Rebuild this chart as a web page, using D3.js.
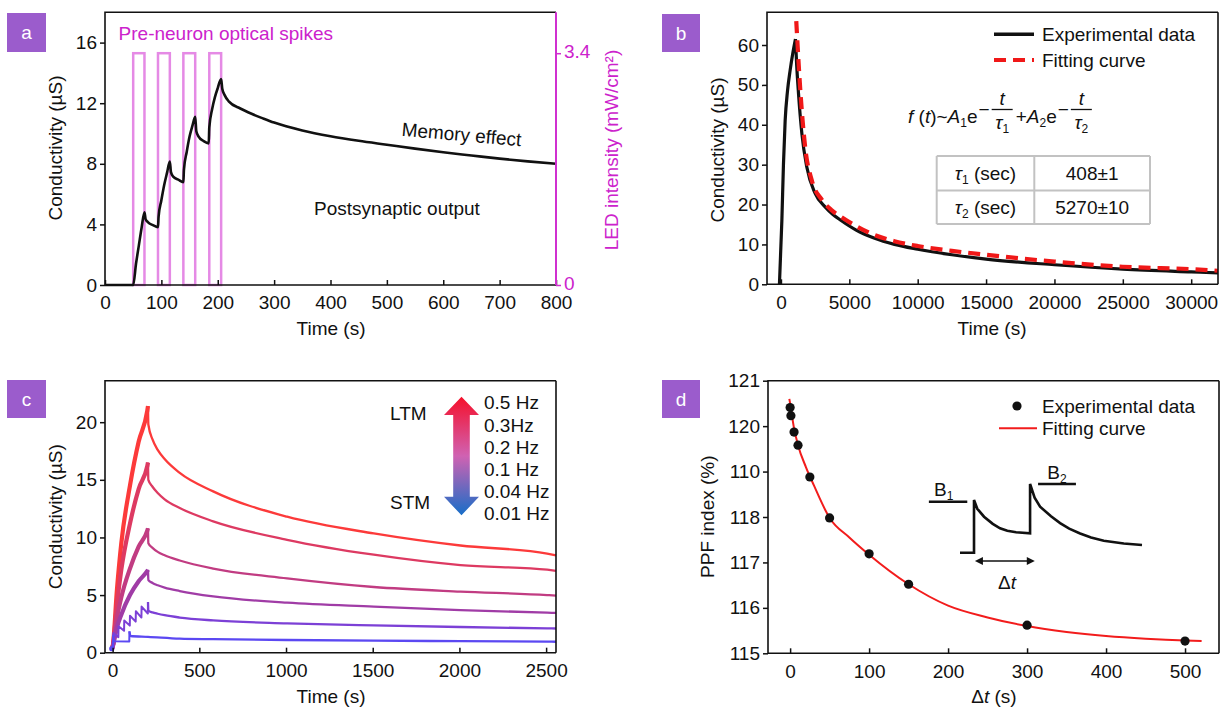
<!DOCTYPE html>
<html>
<head>
<meta charset="utf-8">
<script src="https://cdn.jsdelivr.net/npm/d3@7"></script>
<style>
  body { margin: 0; background: #fff; }
  svg { font-family: "Liberation Sans", Arial, sans-serif; }
</style>
</head>
<body>
<script>
// ---- panel a : optical spikes + postsynaptic output ----
const aPulseStart = [50, 94, 139, 185];
const aPulseEnd = [70, 115, 160, 206];
const aPulseLevel = 3.4;
const aTime = [0, 50, 55, 60, 65, 70, 72, 76, 85, 94, 95, 100, 105, 110, 115, 117, 121, 130, 139, 140, 145, 150, 155, 160, 162, 166, 175, 184, 185, 190, 195, 200, 206, 208, 212, 220, 240, 260, 280, 300, 350, 400, 450, 500, 550, 600, 650, 700, 750, 800];
const aCond = [0, 0, 1.4, 2.6, 3.8, 4.8, 4.35, 4.15, 3.95, 3.82, 4.5, 5.6, 6.6, 7.4, 8.15, 7.45, 7.15, 6.95, 6.78, 7.6, 8.8, 9.8, 10.5, 11.1, 10.15, 9.8, 9.5, 9.35, 10.4, 11.6, 12.4, 13.0, 13.6, 12.95, 12.55, 12.1, 11.65, 11.3, 11.0, 10.72, 10.2, 9.82, 9.52, 9.26, 9.0, 8.76, 8.55, 8.34, 8.16, 8.0];
const aXTicks = [0, 100, 200, 300, 400, 500, 600, 700, 800];
const aYTicks = [0, 4, 8, 12, 16];
const aLedTicks = [0, 3.4];

// ---- panel b : decay + fit ----
const bExpTime = [-110, 66, 183, 307, 480, 673, 870, 1061, 1150, 1280, 1530, 1890, 2500, 3230, 3800, 4400, 5500, 6800, 8300, 10000, 12500, 15000, 20000, 25000, 30000, 31960];
const bExpCond = [0, 15.9, 30, 41, 48.5, 53.7, 58, 61.5, 55, 48, 37.8, 29.4, 22.8, 19.4, 17.5, 16.0, 13.6, 11.6, 10.0, 8.8, 7.4, 6.3, 4.9, 3.8, 3.1, 2.85];
const bPeakIndex = 7;
const bFitTime = [1120, 1400, 1770, 2260, 2990, 3700, 4400, 5500, 6800, 8300, 10000, 12500, 15000, 20000, 25000, 30000, 31960];
const bFitCond = [66, 49.5, 34.4, 26, 21.2, 18.6, 16.9, 14.6, 12.4, 10.8, 9.6, 8.4, 7.4, 5.7, 4.4, 3.8, 3.4];
const bXTicks = [0, 5000, 10000, 15000, 20000, 25000, 30000];
const bYTicks = [0, 10, 20, 30, 40, 50, 60];
const bTauNames = ["1", "2"];
const bTauValues = ["408±1", "5270±10"];

// ---- panel c : frequency dependence ----
const cFreqLabels = ["0.5 Hz", "0.3Hz", "0.2 Hz", "0.1 Hz", "0.04 Hz", "0.01 Hz"];
const cColors = ["#fc3a3a", "#dd3a62", "#c13c82", "#a03ca6", "#7c40d6", "#5b48f2"];
const cRiseTime = [-5, 0, 25, 50, 100, 150, 200, 204];
const cDecayTime = [204, 206, 230, 260, 300, 387, 580, 1006, 1506, 2006, 2506, 2557];
const c05Rise = [0.3, 0.5, 5.5, 9.5, 14.5, 18.3, 21.0, 21.4];
const c05Decay = [21.4, 19.8, 18.5, 17.6, 16.8, 15.6, 14.0, 11.8, 10.35, 9.3, 8.6, 8.45];
const c03Rise = [0.3, 0.5, 4.2, 7.2, 11.2, 14.2, 16.2, 16.5];
const c03Decay = [16.5, 15.0, 14.4, 13.85, 13.3, 12.55, 11.4, 9.8, 8.5, 7.6, 7.2, 7.1];
const c02Rise = [0.3, 0.5, 3.0, 4.8, 7.3, 9.2, 10.6, 10.8];
const c02Decay = [10.8, 9.5, 9.1, 8.75, 8.45, 8.0, 7.3, 6.45, 5.7, 5.3, 5.0, 4.95];
const c01Rise = [0.3, 0.5, 2.2, 3.3, 5.0, 6.2, 7.1, 7.2];
const c01Decay = [7.2, 6.3, 6.05, 5.85, 5.65, 5.35, 4.88, 4.34, 4.0, 3.7, 3.47, 3.45];
const c004Time = [-5, 3, 4, 33, 34, 66, 67, 99, 100, 133, 134, 166, 167, 203, 204];
const c004Cond = [0.3, 0.5, 1.7, 1.35, 2.3, 1.9, 2.8, 2.35, 3.2, 2.7, 3.6, 3.05, 4.0, 3.4, 4.4];
const c004Decay = [4.4, 3.65, 3.5, 3.38, 3.25, 3.05, 2.8, 2.55, 2.37, 2.23, 2.11, 2.1];
const c001Time = [-5, 2, 3, 9, 96, 97];
const c001Cond = [0.3, 0.4, 1.5, 1.0, 0.98, 1.85];
const c001DecayTime = [97, 103, 204, 387, 580, 1006, 1506, 2006, 2506, 2557];
const c001Decay = [1.85, 1.45, 1.38, 1.22, 1.17, 1.1, 1.04, 1.0, 0.96, 0.95];
const cXTicks = [0, 500, 1000, 1500, 2000, 2500];
const cYTicks = [0, 5, 10, 15, 20];

// ---- panel d : PPF index ----
const dDelta = [0, 1, 5, 10, 25, 50, 100, 150, 300, 500];
const dPPF = [120.41, 120.23, 119.87, 119.58, 118.88, 117.98, 117.19, 116.52, 115.62, 115.27];
const dFitDelta = [-1, 0, 5, 10, 20, 30, 50, 75, 100, 150, 200, 250, 300, 350, 400, 450, 500, 521];
const dFitPPF = [120.6, 120.5, 119.95, 119.58, 119.1, 118.7, 117.98, 117.55, 117.17, 116.52, 116.05, 115.79, 115.6, 115.47, 115.38, 115.32, 115.28, 115.27];
const dXTicks = [0, 100, 200, 300, 400, 500];
const dYTicks = [115, 116, 117, 118, 119, 120, 121];
const dYLabels = ["115", "116", "117", "118", "110", "120", "121"];
// schematic inset (arbitrary units)
const insetTime = [0, 0.77, 0.77, 0.95, 1.32, 1.8, 2.2, 2.6, 3.08, 3.85, 3.85, 4.1, 4.4, 5.0, 5.5, 6.0, 6.6, 7.2, 7.9, 9.0, 10];
const insetLevel = [0, 0, 0.767, 0.64, 0.524, 0.42, 0.355, 0.32, 0.297, 0.282, 1.0, 0.8, 0.67, 0.53, 0.43, 0.35, 0.28, 0.22, 0.175, 0.135, 0.112];

const W = 1227, H = 711;
const FS = 19;
const INK = "#111";
const MAG = "#cc22cc";

const svg = d3.select("body").append("svg")
    .attr("width", W)
    .attr("height", H);

const line = (x, y, ts, vs, curve) => d3.line()
    .x((d, i) => x(ts[i]))
    .y((d, i) => y(vs[i]))
    .curve(curve || d3.curveLinear)(ts);

function badge(x, y, w, h, label) {
    svg.append("rect").attr("x", x).attr("y", y).attr("width", w).attr("height", h).attr("fill", "#9b5ccc");
    svg.append("text").attr("x", x + w / 2).attr("y", y + h / 2 + 6.5)
        .attr("text-anchor", "middle").attr("fill", "#fff").attr("font-size", FS).text(label);
}

function axes(x, y, xt, yt, yfmt) {
    const y0 = y.range()[0], x0 = x.range()[0];
    const gx = svg.append("g").attr("transform", `translate(0,${y0})`)
        .call(d3.axisBottom(x).tickValues(xt).tickSize(-5).tickSizeOuter(0).tickPadding(11).tickFormat(d3.format("d")));
    const gy = svg.append("g").attr("transform", `translate(${x0},0)`)
        .call(d3.axisLeft(y).tickValues(yt).tickSize(5).tickSizeOuter(0).tickPadding(3).tickFormat(yfmt || d3.format("d")));
    [gx, gy].forEach(a => {
        a.attr("font-family", null).attr("font-size", null);
        a.select(".domain").remove();
        a.selectAll("text").attr("font-size", FS).attr("fill", INK);
        a.selectAll("line").attr("stroke", INK).attr("stroke-width", 1.5);
    });
}

function frame(x, y, rightColor) {
    const [x0, x1] = x.range(), [y0, y1] = y.range();
    const p = `M${x1},${y1}H${x0}V${y0}H${x1}`;
    svg.append("path").attr("d", p).attr("fill", "none").attr("stroke", INK).attr("stroke-width", 1.6);
    svg.append("line").attr("x1", x1).attr("x2", x1).attr("y1", y1).attr("y2", y0)
        .attr("stroke", rightColor || INK).attr("stroke-width", rightColor ? 2 : 1.6);
}

function label(x, y, txt, opts = {}) {
    const t = svg.append("text").attr("x", x).attr("y", y).attr("font-size", opts.size || FS)
        .attr("fill", opts.color || INK).attr("text-anchor", opts.anchor || "middle");
    if (opts.rotate !== undefined) t.attr("transform", `rotate(${opts.rotate},${x},${y})`);
    t.text(txt);
    return t;
}

// ================= panel a =================
{
    const x = d3.scaleLinear([0, 800], [105, 556]);
    const y = d3.scaleLinear([0, 18], [285, 12.3]);
    const yLed = d3.scaleLinear([0, 4], [285, 12.3]);

    svg.append("g").selectAll("rect").data(aPulseStart).join("rect")
        .attr("x", d => x(d))
        .attr("y", yLed(aPulseLevel))
        .attr("width", (d, i) => x(aPulseEnd[i]) - x(d))
        .attr("height", yLed(0) - yLed(aPulseLevel))
        .attr("fill", "none").attr("stroke", "#e58ae5").attr("stroke-width", 2.5);

    svg.append("path").attr("d", line(x, y, aTime, aCond, d3.curveMonotoneX))
        .attr("fill", "none").attr("stroke", INK).attr("stroke-width", 2.6).attr("stroke-linejoin", "round");

    axes(x, y, aXTicks, aYTicks);
    frame(x, y, "#d030d0");

    const gr = svg.append("g").attr("transform", `translate(${x.range()[1]},0)`)
        .call(d3.axisRight(yLed).tickValues(aLedTicks).tickSize(5).tickSizeOuter(0).tickPadding(3).tickFormat(d => d === 0 ? "0" : "3.4"));
    gr.attr("font-family", null).attr("font-size", null);
    gr.select(".domain").remove();
    gr.selectAll("text").attr("font-size", FS).attr("fill", MAG).attr("dy", "0.25em");
    gr.selectAll("line").attr("stroke", "#d030d0").attr("stroke-width", 1.5);

    label(118.6, 39.5, "Pre-neuron optical spikes", { anchor: "start", color: MAG });
    label(461, 141, "Memory effect", { rotate: 5 });
    label(397, 215, "Postsynaptic output");
    label(331, 335, "Time (s)");
    label(62, 148, "Conductivity (µS)", { rotate: -90 });
    label(618, 150, "LED intensity (mW/cm²)", { rotate: -90, color: MAG });
    badge(7, 13, 39, 39, "a");
}

// ================= panel b =================
{
    const x = d3.scaleLinear([-1020, 31960], [767, 1218]);
    const y = d3.scaleLinear([0, 68.2], [284.3, 12.3]);

    const riseT = bExpTime.slice(0, bPeakIndex + 1), riseV = bExpCond.slice(0, bPeakIndex + 1);
    const decT = bExpTime.slice(bPeakIndex), decV = bExpCond.slice(bPeakIndex);
    svg.append("path").attr("d", line(x, y, riseT, riseV, d3.curveMonotoneX) + line(x, y, decT, decV, d3.curveMonotoneX))
        .attr("fill", "none").attr("stroke", INK).attr("stroke-width", 3.2).attr("stroke-linejoin", "miter");
    svg.append("path").attr("d", line(x, y, bFitTime, bFitCond, d3.curveMonotoneX))
        .attr("fill", "none").attr("stroke", "#f01818").attr("stroke-width", 4.2).attr("stroke-dasharray", "12,7");

    axes(x, y, bXTicks, bYTicks);
    frame(x, y);

    // legend
    svg.append("line").attr("x1", 994).attr("x2", 1034).attr("y1", 34.3).attr("y2", 34.3).attr("stroke", INK).attr("stroke-width", 3.5);
    label(1042, 41, "Experimental data", { anchor: "start" });
    svg.append("line").attr("x1", 994).attr("x2", 1034).attr("y1", 60).attr("y2", 60)
        .attr("stroke", "#f01818").attr("stroke-width", 4.2).attr("stroke-dasharray", "12,7");
    label(1042, 67, "Fitting curve", { anchor: "start" });

    // formula f(t) ~ A1 e^{-t/τ1} + A2 e^{-t/τ2}
    const fm = svg.append("g").attr("font-size", FS).attr("fill", INK);
    let cx = 908;
    const base = 123;
    const piece = (parts) => {
        const t = fm.append("text").attr("x", cx).attr("y", base);
        parts.forEach(p => {
            const s = t.append("tspan").text(p.t);
            if (p.i) s.attr("font-style", "italic");
            if (p.sub) s.attr("font-size", 12).attr("dy", 4);
            if (p.up) s.attr("dy", -4);
        });
        cx += t.node().getComputedTextLength();
    };
    const minus = () => {
        const t = fm.append("text").attr("x", cx + 1).attr("y", base - 7).text("−");
        cx += t.node().getComputedTextLength() + 2;
    };
    const frac = (sub) => {
        const w = 21, mid = cx + w / 2 + 1;
        fm.append("line").attr("x1", cx + 1).attr("x2", cx + 1 + w).attr("y1", 109.5).attr("y2", 109.5).attr("stroke", INK).attr("stroke-width", 1.3);
        fm.append("text").attr("x", mid).attr("y", 105).attr("text-anchor", "middle").attr("font-style", "italic").text("t");
        const d = fm.append("text").attr("x", mid).attr("y", 129).attr("text-anchor", "middle");
        d.append("tspan").attr("font-style", "italic").text("τ");
        d.append("tspan").attr("font-size", 12).attr("dy", 4).text(sub);
        cx += w + 4;
    };
    piece([{ t: "f", i: true }, { t: " (" }, { t: "t", i: true }, { t: ")~" }, { t: "A", i: true }, { t: "1", sub: true }, { t: "e", up: true }]);
    minus();
    frac("1");
    piece([{ t: "+" }, { t: "A", i: true }, { t: "2", sub: true }, { t: "e", up: true }]);
    minus();
    frac("2");

    // table of time constants
    const tx = [936.7, 1034.3, 1150], ty = [156, 190.5, 224];
    const tg = svg.append("g").attr("stroke", "#c2c2c2").attr("stroke-width", 2);
    tx.forEach(v => tg.append("line").attr("x1", v).attr("x2", v).attr("y1", ty[0]).attr("y2", ty[2]));
    ty.forEach(v => tg.append("line").attr("x1", tx[0]).attr("x2", tx[2]).attr("y1", v).attr("y2", v));
    bTauNames.forEach((n, i) => {
        const yb = (ty[i] + ty[i + 1]) / 2 + 6.5;
        const t = svg.append("text").attr("x", (tx[0] + tx[1]) / 2).attr("y", yb).attr("text-anchor", "middle")
            .attr("font-size", FS).attr("fill", INK);
        t.append("tspan").attr("font-style", "italic").text("τ");
        t.append("tspan").attr("font-size", 12).attr("dy", 4).text(n);
        t.append("tspan").attr("dy", -4).text(" (sec)");
        label((tx[1] + tx[2]) / 2, yb, bTauValues[i]);
    });

    label(992, 335, "Time (s)");
    label(724, 150, "Conductivity (µS)", { rotate: -90 });
    badge(662, 14, 38, 38, "b");
}

// ================= panel c =================
{
    const x = d3.scaleLinear([-44, 2557], [105, 556]);
    const y = d3.scaleLinear([0, 23.6], [652.7, 380.7]);

    const rises = [c05Rise, c03Rise, c02Rise, c01Rise];
    const decays = [c05Decay, c03Decay, c02Decay, c01Decay, c004Decay];
    const g = svg.append("g").attr("fill", "none").attr("stroke-linejoin", "round");

    decays.forEach((v, i) => g.append("path").attr("d", line(x, y, cDecayTime, v, d3.curveMonotoneX))
        .attr("stroke", cColors[i]).attr("stroke-width", 2.3));
    rises.forEach((v, i) => g.append("path").attr("d", line(x, y, cRiseTime, v, d3.curveMonotoneX))
        .attr("stroke", cColors[i]).attr("stroke-width", 4.2));
    g.append("path").attr("d", line(x, y, c004Time, c004Cond)).attr("stroke", cColors[4]).attr("stroke-width", 2);
    g.append("path").attr("d", line(x, y, c001Time, c001Cond)).attr("stroke", cColors[5]).attr("stroke-width", 2);
    g.append("path").attr("d", line(x, y, c001DecayTime, c001Decay, d3.curveMonotoneX)).attr("stroke", cColors[5]).attr("stroke-width", 2.3);
    svg.append("circle").attr("cx", x(-5)).attr("cy", y(0.35)).attr("r", 2.6).attr("fill", "#5b48f2");

    axes(x, y, cXTicks, cYTicks);
    frame(x, y);

    // LTM / STM gradient arrow
    const grad = svg.append("defs").append("linearGradient").attr("id", "ltm").attr("x1", 0).attr("x2", 0).attr("y1", 0).attr("y2", 1);
    [["0%", "#f5102a"], ["50%", "#d062b2"], ["100%", "#176ec8"]].forEach(s =>
        grad.append("stop").attr("offset", s[0]).attr("stop-color", s[1]));
    const ac = 461.5, hw = 17.5, sw = 8.3, top = 396.7, hb = 415, bb = 496.7, bot = 515.3;
    svg.append("path")
        .attr("d", `M${ac},${top}L${ac + hw},${hb}H${ac + sw}V${bb}H${ac + hw}L${ac},${bot}L${ac - hw},${bb}H${ac - sw}V${hb}H${ac - hw}Z`)
        .attr("fill", "url(#ltm)");
    label(390, 420, "LTM", { anchor: "start" });
    label(390, 508.5, "STM", { anchor: "start" });
    const fy = [402.3, 425.3, 447.3, 469.3, 491.5, 513.3];
    cFreqLabels.forEach((f, i) => label(484, fy[i] + 6.8, f, { anchor: "start" }));

    label(331, 703, "Time (s)");
    label(62, 516.7, "Conductivity (µS)", { rotate: -90 });
    badge(7, 380, 39, 38, "c");
}

// ================= panel d =================
{
    const x = d3.scaleLinear([-28, 543], [768, 1219]);
    const y = d3.scaleLinear([115, 121], [653.3, 380.7]);

    svg.append("path").attr("d", line(x, y, dFitDelta, dFitPPF, d3.curveMonotoneX))
        .attr("fill", "none").attr("stroke", "#f21c1c").attr("stroke-width", 2);
    svg.append("g").selectAll("circle").data(dDelta).join("circle")
        .attr("cx", d => x(d)).attr("cy", (d, i) => y(dPPF[i])).attr("r", 4.6).attr("fill", INK);

    axes(x, y, dXTicks, dYTicks, (d, i) => dYLabels[i]);
    frame(x, y);

    // legend
    svg.append("circle").attr("cx", 1017).attr("cy", 406).attr("r", 4.6).attr("fill", INK);
    label(1042, 413, "Experimental data", { anchor: "start" });
    svg.append("line").attr("x1", 999).attr("x2", 1037).attr("y1", 428.3).attr("y2", 428.3).attr("stroke", "#f21c1c").attr("stroke-width", 2);
    label(1042, 435, "Fitting curve", { anchor: "start" });

    // schematic inset
    const ix = d3.scaleLinear([0, 10], [960, 1142]);
    const iy = d3.scaleLinear([0, 1], [552.7, 484]);
    const ig = svg.append("g").attr("fill", "none").attr("stroke", INK).attr("stroke-width", 2.6);
    ig.append("path").attr("d", line(ix, iy, insetTime, insetLevel));
    ig.append("line").attr("x1", ix(-1.71)).attr("x2", ix(0.4)).attr("y1", iy(0.742)).attr("y2", iy(0.742));
    ig.append("line").attr("x1", ix(4.29)).attr("x2", ix(6.37)).attr("y1", iy(1)).attr("y2", iy(1));
    const ay = iy(-0.12), a0 = ix(0.82), a1 = ix(4.11);
    svg.append("line").attr("x1", a0 + 3).attr("x2", a1 - 3).attr("y1", ay).attr("y2", ay).attr("stroke", INK).attr("stroke-width", 1.6);
    svg.append("path").attr("d", `M${a0},${ay}l8,-4v8z M${a1},${ay}l-8,-4v8z`).attr("fill", INK);
    const b1 = svg.append("text").attr("x", ix(-1.43)).attr("y", 496).attr("font-size", FS).attr("fill", INK);
    b1.append("tspan").text("B");
    b1.append("tspan").attr("font-size", 12).attr("dy", 4).text("1");
    const b2 = svg.append("text").attr("x", ix(4.8)).attr("y", 478.5).attr("font-size", FS).attr("fill", INK);
    b2.append("tspan").text("B");
    b2.append("tspan").attr("font-size", 12).attr("dy", 4).text("2");
    const dt = svg.append("text").attr("x", 1007).attr("y", 589).attr("text-anchor", "middle").attr("font-size", FS).attr("fill", INK);
    dt.append("tspan").text("Δ");
    dt.append("tspan").attr("font-style", "italic").text("t");

    const xl = svg.append("text").attr("x", 994).attr("y", 703).attr("text-anchor", "middle").attr("font-size", FS).attr("fill", INK);
    xl.append("tspan").text("Δ");
    xl.append("tspan").attr("font-style", "italic").text("t");
    xl.append("tspan").text(" (s)");
    label(714, 516.7, "PPF index (%)", { rotate: -90 });
    badge(662, 380, 38, 38, "d");
}
</script>
</body>
</html>
